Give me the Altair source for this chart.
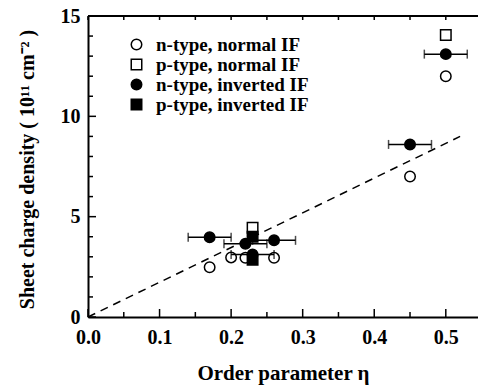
import altair as alt
import pandas as pd

# ---------------- data ----------------
series = ["n-type, normal IF", "p-type, normal IF", "n-type, inverted IF", "p-type, inverted IF"]

open_circle_x = [0.17, 0.20, 0.22, 0.26, 0.45, 0.50]
open_circle_y = [2.48, 2.97, 2.95, 2.95, 7.0, 12.0]

open_square_x = [0.23, 0.50]
open_square_y = [4.45, 14.05]

filled_circle_x = [0.17, 0.22, 0.26, 0.23, 0.45, 0.50]
filled_circle_y = [3.97, 3.65, 3.82, 3.12, 8.6, 13.1]
filled_circle_xerr = [0.03, 0.03, 0.03, 0.03, 0.03, 0.03]

filled_square_x = [0.23, 0.23]
filled_square_y = [4.0, 2.85]

fit_x = [0.0, 0.52]
fit_y = [0.0, 9.0]

x_major = [0.0, 0.1, 0.2, 0.3, 0.4, 0.5]
x_minor = [0.05, 0.15, 0.25, 0.35, 0.45]
y_major = [0, 5, 10, 15]
y_minor = [1, 2, 3, 4, 6, 7, 8, 9, 11, 12, 13, 14]

# ---------------- tables ----------------
rows = []
for xs, ys, s in [(open_circle_x, open_circle_y, series[0]),
                  (open_square_x, open_square_y, series[1]),
                  (filled_circle_x, filled_circle_y, series[2]),
                  (filled_square_x, filled_square_y, series[3])]:
    for xv, yv in zip(xs, ys):
        rows.append({"x": xv, "y": yv, "series": s})
pts = pd.DataFrame(rows)

err = pd.DataFrame({
    "y": filled_circle_y,
    "lo": [a - e for a, e in zip(filled_circle_x, filled_circle_xerr)],
    "hi": [a + e for a, e in zip(filled_circle_x, filled_circle_xerr)],
})
fit = pd.DataFrame({"x": fit_x, "y": fit_y})

W, H = 390, 301
FONT = "Liberation Serif"
xscale = alt.Scale(domain=[0, 0.545], nice=False, zero=False)
yscale = alt.Scale(domain=[0, 15], nice=False, zero=False)

x_axis = alt.Axis(values=x_major, format=".1f", ticks=False, grid=False,
                  domain=True, domainColor="black", domainWidth=2,
                  labelFont=FONT, labelFontWeight="bold", labelFontSize=20,
                  labelColor="black", labelPadding=10, labelFlush=False,
                  title="Order parameter η", titleFont=FONT, titleFontWeight="bold",
                  titleFontSize=21, titleColor="black",
                  titleX=W / 2, titleY=62, titleBaseline="alphabetic", titleAlign="center")
y_axis = alt.Axis(values=y_major, format="d", ticks=False, grid=False,
                  domain=True, domainColor="black", domainWidth=2,
                  labelFont=FONT, labelFontWeight="bold", labelFontSize=20,
                  labelColor="black", labelPadding=8, labelFlush=False,
                  title="Sheet charge density ( 10¹¹ cm⁻² )", titleFont=FONT,
                  titleFontWeight="bold", titleFontSize=20, titleColor="black",
                  titleX=-55, titleY=153, titleBaseline="alphabetic", titleAlign="center",
                  titleAngle=270)

legend = alt.Legend(title=None, orient="none", legendX=39, legendY=19, padding=0,
                    labelFont=FONT, labelFontWeight="bold", labelFontSize=19,
                    labelColor="black", labelOffset=10, rowPadding=0,
                    symbolSize=110, symbolStrokeColor="black", symbolStrokeWidth=1.5)

points = alt.Chart(pts).mark_point(size=110, strokeWidth=1.5, opacity=1).encode(
    x=alt.X("x:Q", scale=xscale, axis=x_axis),
    y=alt.Y("y:Q", scale=yscale, axis=y_axis),
    shape=alt.Shape("series:N", scale=alt.Scale(domain=series, range=["circle", "square", "circle", "square"]), legend=legend),
    fill=alt.Fill("series:N", scale=alt.Scale(domain=series, range=["white", "white", "black", "black"]), legend=legend),
    stroke=alt.Stroke("series:N", scale=alt.Scale(domain=series, range=["black", "black", "black", "black"]), legend=legend),
)

fit_line = alt.Chart(fit).mark_line(color="black", strokeWidth=1.5, strokeDash=[8, 6]).encode(
    x=alt.X("x:Q", scale=xscale, axis=x_axis),
    y=alt.Y("y:Q", scale=yscale, axis=y_axis),
)

err_rule = alt.Chart(err).mark_rule(color="black", strokeWidth=1.5).encode(
    x=alt.X("lo:Q", scale=xscale, axis=x_axis),
    x2="hi:Q",
    y=alt.Y("y:Q", scale=yscale, axis=y_axis),
)
err_caps = alt.Chart(err).transform_fold(["lo", "hi"], as_=["end", "xv"]).mark_tick(
    color="black", orient="vertical", size=9, thickness=1.5).encode(
    x=alt.X("xv:Q", scale=xscale, axis=x_axis),
    y=alt.Y("y:Q", scale=yscale, axis=y_axis),
)

def xticks(vals, y0, y1):
    return alt.Chart(pd.DataFrame({"v": vals})).mark_rule(color="black", strokeWidth=1.5).encode(
        x=alt.X("v:Q", scale=xscale, axis=x_axis), y=alt.value(y0), y2=alt.value(y1))

def yticks(vals, x0, x1):
    return alt.Chart(pd.DataFrame({"v": vals})).mark_rule(color="black", strokeWidth=1.5).encode(
        y=alt.Y("v:Q", scale=yscale, axis=y_axis), x=alt.value(x0), x2=alt.value(x1))

top_frame = alt.Chart(pd.DataFrame({"v": [0]})).mark_rule(color="black", strokeWidth=2).encode(
    x=alt.value(0), x2=alt.value(W), y=alt.value(0))

chart = alt.layer(
    points,
    fit_line,
    err_rule,
    err_caps,
    xticks(x_major, H, H - 8),
    xticks(x_minor, H, H - 5),
    xticks(x_major + x_minor, 0, 4),
    yticks(y_major, 0, 8),
    yticks(y_minor, 0, 5),
    top_frame,
).properties(
    width=W, height=H,
    autosize=alt.AutoSizeParams(type="none"),
    padding={"left": 88, "top": 16, "right": 0, "bottom": 73},
    background="white",
).configure_view(stroke=None)

chart.save("out.html", embed_options={"renderer": "svg", "actions": False})
